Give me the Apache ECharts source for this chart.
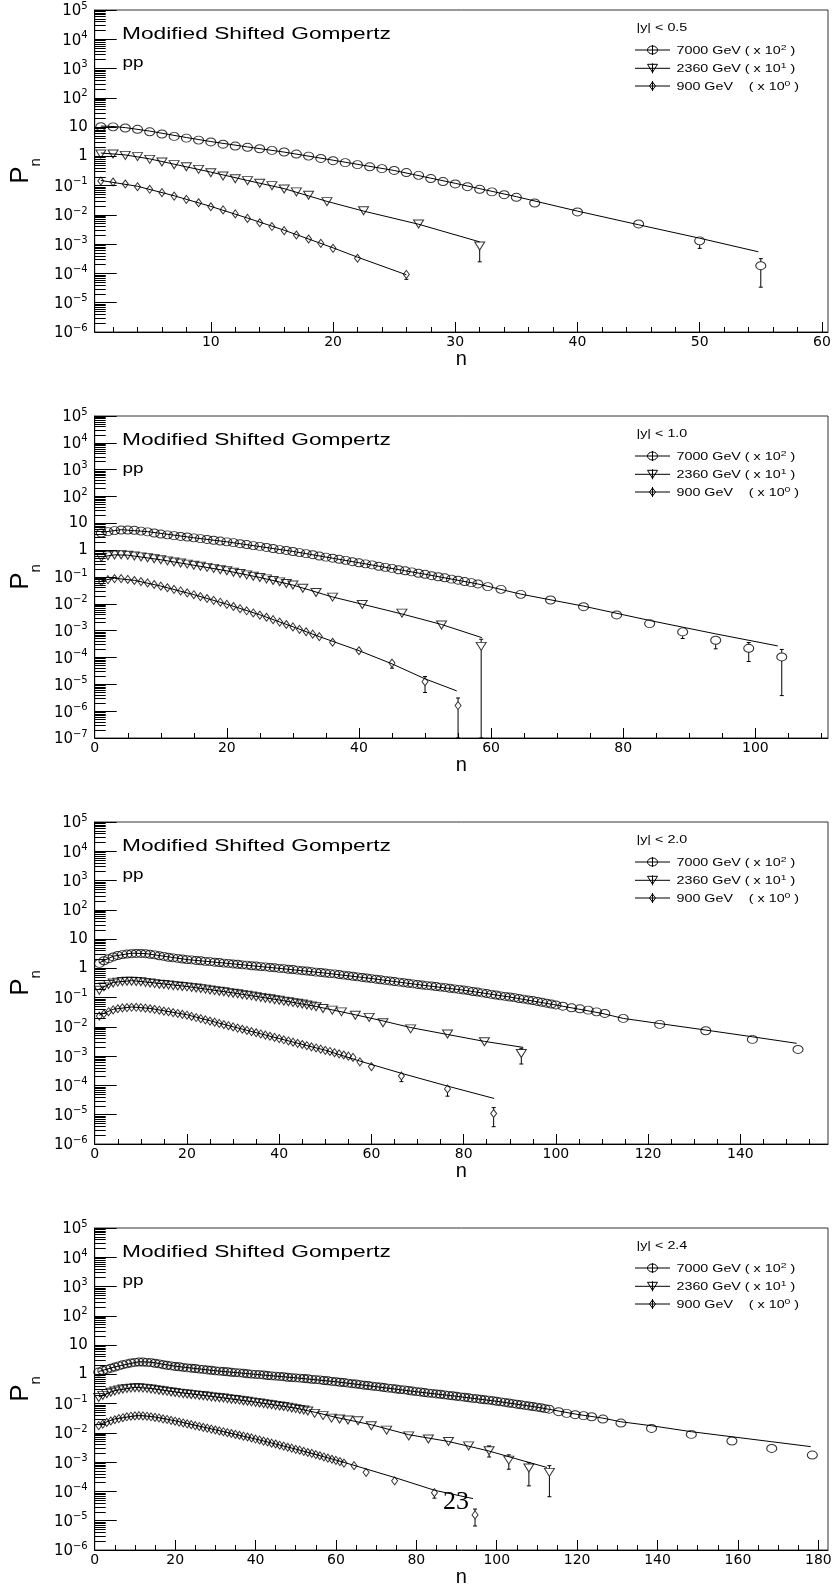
<!DOCTYPE html>
<html><head><meta charset="utf-8">
<script src="https://cdn.jsdelivr.net/npm/echarts@6/dist/echarts.min.js"></script>
<style>html,body{margin:0;padding:0;background:#fff}#c{width:835px;height:1589px}</style>
</head><body><div id="c"></div>
<script>
// ---------------- tick labels / categories ----------------
const CUTS = ['|y| < 0.5', '|y| < 1.0', '|y| < 2.0', '|y| < 2.4'];
const ENERGY_LABELS = ['{b|7000 GeV ( x 10}{s|2}{b| )}', '{b|2360 GeV ( x 10}{s|1}{b| )}', '{b|900 GeV    ( x 10}{s|0}{b| )}'];
const TITLE = 'Modified Shifted Gompertz';
const BEAM = 'pp';
const X1_MAJOR = [10, 20, 30, 40, 50, 60];
const X2_MAJOR = [0, 20, 40, 60, 80, 100];
const X3_MAJOR = [0, 20, 40, 60, 80, 100, 120, 140];
const X4_MAJOR = [0, 20, 40, 60, 80, 100, 120, 140, 160, 180];
const Y_MAJOR_A = [1e-6, 1e-5, 1e-4, 1e-3, 1e-2, 1e-1, 1, 10, 100, 1e3, 1e4, 1e5];
const Y_MAJOR_B = [1e-7, 1e-6, 1e-5, 1e-4, 1e-3, 1e-2, 1e-1, 1, 10, 100, 1e3, 1e4, 1e5];

// ---------------- panel 1 : |y| < 0.5 ----------------
const P1_7000 = [[1,10.3],[2,10.2],[3,9.3],[4,8.4],[5,6.9],[6,5.8],[7,4.8],[8,4.2],[9,3.6],[10,3.1],[11,2.6],[12,2.25],[13,2.04],[14,1.82],[15,1.6],[16,1.41],[17,1.2],[18,1.02],[19,0.85],[20,0.71],[21,0.61],[22,0.52],[23,0.44],[24,0.38],[25,0.33],[26,0.28],[27,0.225],[28,0.175],[29,0.138],[30,0.114],[31,0.092],[32,0.075],[33,0.061],[34,0.049],[35,0.040],[36.5,0.0255],[40,0.0126],[45,0.0049],[50,0.0013],[55,1.84e-4]];
const P1_2360 = [[1,1.2],[2,1.2],[3,1.08],[4,0.98],[5,0.79],[6,0.64],[7,0.52],[8,0.44],[9,0.36],[10,0.277],[11,0.214],[12,0.172],[13,0.148],[14,0.12],[15,0.1],[16,0.077],[17,0.061],[18,0.047],[19.5,0.0284],[22.5,0.0139],[27,0.0049],[32,8.7e-4]];
const P1_900 = [[1,0.144],[2,0.133],[3,0.114],[4,0.092],[5,0.075],[6,0.0575],[7,0.044],[8,0.034],[9,0.026],[10,0.019],[11,0.0148],[12,0.0108],[13,0.0076],[14,0.0054],[15,0.004],[16,0.0029],[17,0.00206],[18,0.0015],[19,0.00107],[20,7.2e-4],[22,3.3e-4],[26,9.3e-5]];
const P1_E7000 = [[50,7.2e-4,1.55e-3],[55,3.4e-5,3.2e-4]];
const P1_E2360 = [[32,2.5e-4,1.07e-3]];
const P1_E900 = [[22,2.6e-4,4.0e-4],[26,6.3e-5,1.15e-4]];
const P1_F7000 = [[1,10.8],[2,10.5],[3,9.6],[5,7.3],[8,4.4],[10,3.2],[13,2.1],[16,1.4],[20,0.74],[25,0.33],[30,0.12],[35,0.042],[40,0.0135],[45,0.0046],[50,0.0016],[54.8,5.5e-4]];
const P1_F2360 = [[1,1.3],[3,1.12],[5,0.82],[7,0.54],[10,0.29],[13,0.15],[16,0.079],[19.5,0.029],[22.5,0.0135],[27,0.0048],[32,1.2e-3]];
const P1_F900 = [[1,0.15],[4,0.095],[7,0.045],[10,0.0195],[13,0.0078],[16,0.003],[20,7.5e-4],[22,3.6e-4],[26,9e-5]];

// ---------------- panel 2 : |y| < 1.0 ----------------
const P2_7000 = [[1,4.37],[2,4.9],[3,5.37],[4,5.62],[5,5.62],[6,5.5],[7,5.13],[8,4.79],[9,4.37],[10,3.98],[11,3.72],[12,3.47],[13,3.24],[14,3.09],[15,2.88],[16,2.69],[17,2.51],[18,2.34],[19,2.19],[20,2.04],[21,1.905],[22,1.738],[23,1.622],[24,1.479],[25,1.38],[26,1.26],[27,1.15],[28,1.05],[29,0.977],[30,0.891],[31,0.813],[32,0.741],[33,0.676],[34,0.603],[35,0.55],[36,0.501],[37,0.457],[38,0.417],[39,0.372],[40,0.339],[41,0.309],[42,0.282],[43,0.251],[44,0.229],[45,0.209],[46,0.186],[47,0.17],[48,0.155],[49,0.138],[50,0.126],[51,0.112],[52,0.102],[53,0.0933],[54,0.0832],[55,0.0759],[56,0.0676],[57,0.0617],[58,0.055],[59.5,0.0437],[61.5,0.0347],[64.5,0.0226],[69,0.0139],[74,0.0078],[79,0.00385],[84,0.00183],[89,9.0e-4],[94,4.4e-4],[99,2.2e-4],[104,1.05e-4]];
const P2_2360 = [[1,0.537],[2,0.617],[3,0.661],[4,0.676],[5,0.646],[6,0.603],[7,0.562],[8,0.525],[9,0.479],[10,0.437],[11,0.398],[12,0.363],[13,0.331],[14,0.302],[15,0.275],[16,0.251],[17,0.229],[18,0.209],[19,0.186],[20,0.17],[21,0.151],[22,0.135],[23,0.12],[24,0.107],[25,0.0955],[26,0.0851],[27,0.0741],[28,0.0661],[29,0.0575],[30,0.0501],[31.5,0.038],[33.5,0.0263],[36,0.0178],[40.5,0.0095],[46.5,0.0045],[52.5,0.00163],[58.5,2.6e-4]];
const P2_900 = [[1,0.0676],[2,0.0794],[3,0.0871],[4,0.0871],[5,0.0813],[6,0.0741],[7,0.0676],[8,0.0603],[9,0.0525],[10,0.0457],[11,0.0398],[12,0.0347],[13,0.0302],[14,0.0257],[15,0.0219],[16,0.0186],[17,0.0158],[18,0.0135],[19,0.0115],[20,0.00955],[21,0.00794],[22,0.00661],[23,0.0055],[24,0.00457],[25,0.0038],[26,0.00316],[27,0.00257],[28,0.00209],[29,0.0017],[30,0.00138],[31,0.00112],[32,9.1e-4],[33,7.4e-4],[34,6.0e-4],[36,3.7e-4],[40,1.78e-4],[45,6.2e-5],[50,1.26e-5],[55,1.62e-6]];
const P2_E7000 = [[84,1.3e-3,2.3e-3],[89,5.1e-4,1.3e-3],[94,2.1e-4,6.0e-4],[99,7.1e-5,3.6e-4],[104,3.8e-6,2.0e-4]];
const P2_E2360 = [[52.5,1.3e-3,2.0e-3],[58.5,1e-7,4.8e-4]];
const P2_E900 = [[40,1.4e-4,2.2e-4],[45,4.0e-5,7.9e-5],[50,4.95e-6,1.95e-5],[55,1e-7,3.1e-6]];
const P2_F7000 = [[1,4.6],[4,5.8],[8,4.9],[15,2.9],[20,2.05],[30,0.9],[40,0.34],[50,0.127],[58,0.055],[64.5,0.023],[74,0.0082],[84,0.0024],[94,7.6e-4],[103.4,2.7e-4]];
const P2_F2360 = [[1,0.56],[3,0.67],[5,0.65],[10,0.44],[15,0.275],[20,0.17],[25,0.096],[30,0.05],[36,0.018],[40.5,0.0097],[46.5,0.0042],[52.5,0.0017],[58.6,5.5e-4]];
const P2_F900 = [[1,0.072],[3,0.09],[6,0.075],[10,0.046],[15,0.022],[20,0.0097],[25,0.0039],[30,0.0014],[34,6.0e-4],[40,1.8e-4],[45,5.8e-5],[50,1.6e-5],[54.8,5.7e-6]];

// ---------------- panel 3 : |y| < 2.0 ----------------
const P3_7000 = [[1,1.479],[2,1.82],[3,2.138],[4,2.455],[5,2.754],[6,2.951],[7,3.09],[8,3.162],[9,3.236],[10,3.236],[11,3.162],[12,3.02],[13,2.884],[14,2.692],[15,2.57],[16,2.399],[17,2.291],[18,2.188],[19,2.089],[20,1.995],[21,1.95],[22,1.862],[23,1.82],[24,1.738],[25,1.698],[26,1.622],[27,1.585],[28,1.514],[29,1.479],[30,1.413],[31,1.38],[32,1.318],[33,1.288],[34,1.23],[35,1.202],[36,1.148],[37,1.122],[38,1.072],[39,1.047],[40,1.0],[41,0.977],[42,0.933],[43,0.912],[44,0.871],[45,0.832],[46,0.813],[47,0.776],[48,0.741],[49,0.724],[50,0.692],[51,0.661],[52,0.646],[53,0.617],[54,0.589],[55,0.562],[56,0.537],[57,0.513],[58,0.49],[59,0.468],[60,0.447],[61,0.427],[62,0.407],[63,0.389],[64,0.372],[65,0.355],[66,0.339],[67,0.324],[68,0.309],[69,0.295],[70,0.282],[71,0.269],[72,0.257],[73,0.251],[74,0.24],[75,0.229],[76,0.219],[77,0.209],[78,0.2],[79,0.191],[80,0.182],[81,0.174],[82,0.162],[83,0.155],[84,0.145],[85,0.138],[86,0.129],[87,0.123],[88,0.115],[89,0.11],[90,0.105],[91,0.1],[92,0.0933],[93,0.0891],[94,0.0832],[95,0.0794],[96,0.0741],[97,0.0692],[98,0.0646],[99,0.0603],[100,0.0562],[101.5,0.051],[103.4,0.045],[105.2,0.0415],[107,0.0374],[108.8,0.0327],[110.6,0.0288],[114.6,0.0195],[122.5,0.0122],[132.5,0.0074],[142.6,0.00374],[152.5,0.0017]];
const P3_2360 = [[1,0.178],[2,0.234],[3,0.282],[4,0.316],[5,0.339],[6,0.355],[7,0.363],[8,0.363],[9,0.355],[10,0.347],[11,0.331],[12,0.316],[13,0.302],[14,0.288],[15,0.282],[16,0.269],[17,0.257],[18,0.251],[19,0.24],[20,0.234],[21,0.224],[22,0.214],[23,0.204],[24,0.195],[25,0.182],[26,0.174],[27,0.166],[28,0.158],[29,0.148],[30,0.141],[31,0.135],[32,0.126],[33,0.12],[34,0.115],[35,0.107],[36,0.102],[37,0.0955],[38,0.0912],[39,0.0851],[40,0.0813],[41,0.0759],[42,0.0724],[43,0.0676],[44,0.0646],[45,0.0603],[46,0.0562],[47,0.0525],[48,0.049],[49.5,0.0427],[51.5,0.0374],[53.5,0.0327],[56.5,0.0251],[59.5,0.0211],[62.5,0.0138],[68.5,0.0086],[76.5,0.0057],[84.5,0.0031],[92.5,0.00124]];
const P3_900 = [[1,0.0234],[2,0.0282],[3,0.0331],[4,0.038],[5,0.0417],[6,0.0447],[7,0.0457],[8,0.0468],[9,0.0468],[10,0.0457],[11,0.0437],[12,0.0417],[13,0.0398],[14,0.0372],[15,0.0347],[16,0.0331],[17,0.0309],[18,0.0288],[19,0.0269],[20,0.0251],[21,0.0229],[22,0.0209],[23,0.0191],[24,0.0174],[25,0.0158],[26,0.0145],[27,0.0132],[28,0.012],[29,0.011],[30,0.01],[31,0.00912],[32,0.00832],[33,0.00759],[34,0.00692],[35,0.00631],[36,0.00575],[37,0.00525],[38,0.00479],[39,0.00437],[40,0.00398],[41,0.00363],[42,0.00331],[43,0.00302],[44,0.00275],[45,0.00251],[46,0.00229],[47,0.00209],[48,0.00191],[49,0.00174],[50,0.00158],[51,0.00145],[52,0.00132],[53,0.0012],[54,0.0011],[55,0.001],[56,9.1e-4],[57.5,6.4e-4],[60,4.4e-4],[66.5,2.1e-4],[76.5,7.6e-5],[86.5,1.1e-5]];
const P3_E7000 = [[152.5,1.45e-3,1.95e-3]];
const P3_E2360 = [[84.5,2.5e-3,3.4e-3],[92.5,5.4e-4,1.86e-3]];
const P3_E900 = [[66.5,1.35e-4,2.95e-4],[76.5,4.3e-5,1.0e-4],[86.5,3.9e-6,1.75e-5]];
const P3_F7000 = [[1,1.55],[4,2.6],[8,3.3],[11,3.2],[15,2.6],[20,2.0],[30,1.42],[40,1.0],[50,0.69],[60,0.45],[70,0.28],[80,0.18],[90,0.105],[100,0.056],[110,0.029],[114.6,0.0195],[122.5,0.013],[132.5,0.0078],[142.6,0.0046],[152.2,0.00275]];
const P3_F2360 = [[1,0.2],[4,0.33],[8,0.38],[12,0.33],[20,0.24],[30,0.145],[40,0.083],[48,0.05],[56.5,0.026],[62.5,0.016],[68.5,0.0095],[76.5,0.0055],[84.5,0.0032],[92.9,0.002]];
const P3_F900 = [[1,0.025],[4,0.04],[8,0.048],[12,0.043],[20,0.026],[30,0.0101],[40,0.004],[50,0.0016],[57.5,6.8e-4],[66.5,2.6e-4],[76.5,9.5e-5],[86.6,3.6e-5]];

// ---------------- panel 4 : |y| < 2.4 ----------------
const P4_7000 = [[1,1.202],[2,1.349],[3,1.479],[4,1.622],[5,1.778],[6,1.95],[7,2.138],[8,2.291],[9,2.455],[10,2.57],[11,2.63],[12,2.63],[13,2.57],[14,2.512],[15,2.399],[16,2.291],[17,2.138],[18,2.042],[19,1.95],[20,1.862],[21,1.82],[22,1.738],[23,1.66],[24,1.622],[25,1.585],[26,1.514],[27,1.479],[28,1.413],[29,1.38],[30,1.318],[31,1.288],[32,1.259],[33,1.23],[34,1.175],[35,1.148],[36,1.122],[37,1.096],[38,1.047],[39,1.023],[40,1.0],[41,0.977],[42,0.955],[43,0.912],[44,0.891],[45,0.871],[46,0.851],[47,0.832],[48,0.794],[49,0.776],[50,0.759],[51,0.741],[52,0.724],[53,0.708],[54,0.676],[55,0.661],[56,0.646],[57,0.617],[58,0.603],[59,0.575],[60,0.562],[61,0.537],[62,0.525],[63,0.501],[64,0.479],[65,0.468],[66,0.447],[67,0.427],[68,0.417],[69,0.398],[70,0.38],[71,0.372],[72,0.355],[73,0.339],[74,0.331],[75,0.316],[76,0.302],[77,0.295],[78,0.282],[79,0.269],[80,0.257],[81,0.251],[82,0.24],[83,0.229],[84,0.224],[85,0.214],[86,0.209],[87,0.2],[88,0.191],[89,0.186],[90,0.178],[91,0.17],[92,0.166],[93,0.158],[94,0.151],[95,0.148],[96,0.141],[97,0.135],[98,0.132],[99,0.126],[100,0.12],[101,0.115],[102,0.11],[103,0.105],[104,0.1],[105,0.0955],[106,0.0912],[107,0.0871],[108,0.0832],[109,0.0794],[110,0.0759],[111,0.0724],[112,0.0676],[113,0.0646],[115.4,0.053],[117.4,0.0465],[119.5,0.0419],[121.6,0.0389],[123.6,0.0357],[126.4,0.0298],[130.9,0.0217],[138.5,0.0142],[148.4,0.0089],[158.5,0.0053],[168.4,0.00295],[178.5,0.00175]];
const P4_2360 = [[1,0.162],[2,0.191],[3,0.219],[4,0.245],[5,0.269],[6,0.295],[7,0.316],[8,0.331],[9,0.339],[10,0.347],[11,0.347],[12,0.339],[13,0.331],[14,0.316],[15,0.302],[16,0.288],[17,0.275],[18,0.263],[19,0.251],[20,0.24],[21,0.229],[22,0.219],[23,0.214],[24,0.204],[25,0.2],[26,0.191],[27,0.186],[28,0.178],[29,0.17],[30,0.166],[31,0.158],[32,0.155],[33,0.148],[34,0.141],[35,0.138],[36,0.132],[37,0.126],[38,0.12],[39,0.115],[40,0.11],[41,0.105],[42,0.1],[43,0.0955],[44,0.0912],[45,0.0871],[46,0.0832],[47,0.0794],[48,0.0759],[49,0.0708],[50,0.0676],[51,0.0631],[52,0.0603],[53,0.0562],[54.7,0.0465],[56.8,0.039],[58.9,0.032],[60.9,0.030],[63,0.0275],[65.5,0.026],[68.8,0.0176],[72.6,0.0124],[78.1,0.0079],[83,0.0062],[88,0.0051],[93,0.0036],[98.1,0.00245],[103,0.00118],[108,6.3e-4],[113.1,4.5e-4]];
const P4_900 = [[1,0.0178],[2,0.02],[3,0.0229],[4,0.0257],[5,0.0282],[6,0.0309],[7,0.0331],[8,0.0355],[9,0.0372],[10,0.038],[11,0.0389],[12,0.038],[13,0.0372],[14,0.0355],[15,0.0339],[16,0.0324],[17,0.0302],[18,0.0288],[19,0.0269],[20,0.0251],[21,0.0234],[22,0.0219],[23,0.0204],[24,0.0191],[25,0.0178],[26,0.0166],[27,0.0155],[28,0.0145],[29,0.0135],[30,0.0126],[31,0.0117],[32,0.011],[33,0.0102],[34,0.00955],[35,0.00891],[36,0.00832],[37,0.00776],[38,0.00724],[39,0.00676],[40,0.00617],[41,0.00575],[42,0.00525],[43,0.0049],[44,0.00447],[45,0.00417],[46,0.0038],[47,0.00355],[48,0.00324],[49,0.00302],[50,0.00275],[51,0.00257],[52,0.00234],[53,0.00214],[54,0.002],[55,0.00182],[56,0.00166],[57,0.00151],[58,0.00138],[59,0.00126],[60,0.00115],[61,0.00105],[62,9.3e-4],[64.5,7.6e-4],[67.5,4.5e-4],[74.6,2.3e-4],[84.5,9.1e-5],[94.6,1.58e-5]];
const P4_E7000 = [[168.4,2.6e-3,3.3e-3],[178.5,1.5e-3,2.05e-3]];
const P4_E2360 = [[98.1,1.5e-3,3.6e-3],[103,5.75e-4,1.78e-3],[108,1.55e-4,9.8e-4],[113.1,6.6e-5,7.6e-4]];
const P4_E900 = [[67.5,3.6e-4,5.5e-4],[74.6,1.62e-4,2.95e-4],[84.5,5.9e-5,1.2e-4],[94.6,6.6e-6,2.5e-5]];
const P4_F7000 = [[1,1.25],[5,1.8],[11,2.7],[14,2.6],[20,1.9],[30,1.33],[40,1.0],[50,0.76],[60,0.56],[70,0.38],[80,0.255],[90,0.178],[100,0.12],[110,0.076],[120,0.043],[126.4,0.032],[130.9,0.024],[138.5,0.0176],[148.4,0.011],[158.5,0.0074],[168.4,0.005],[178.1,0.0034]];
const P4_F2360 = [[1,0.17],[5,0.28],[10,0.36],[14,0.33],[20,0.25],[30,0.17],[40,0.112],[50,0.07],[55,0.05],[60,0.034],[68.8,0.019],[78.1,0.0087],[88,0.0051],[98.1,0.0024],[108,9.8e-4],[112.5,6.6e-4]];
const P4_F900 = [[1,0.019],[5,0.03],[11,0.04],[15,0.035],[20,0.026],[30,0.0128],[40,0.0062],[50,0.0028],[60,0.00118],[64.5,7.8e-4],[74.6,3.0e-4],[84.5,1.1e-4],[94.1,5.7e-5]];

// ---------------- layout ----------------
const PANELS = [
  {top: 10,  xmin: 0.5, xmax: 60.5, ymin: 1e-6, ymax: 1e5, xmajor: X1_MAJOR, xstep: 2, ymajor: Y_MAJOR_A,
   pts: [P1_7000, P1_2360, P1_900], errs: [P1_E7000, P1_E2360, P1_E900], fits: [P1_F7000, P1_F2360, P1_F900]},
  {top: 416, xmin: 0, xmax: 111, ymin: 1e-7, ymax: 1e5, xmajor: X2_MAJOR, xstep: 5, ymajor: Y_MAJOR_B,
   pts: [P2_7000, P2_2360, P2_900], errs: [P2_E7000, P2_E2360, P2_E900], fits: [P2_F7000, P2_F2360, P2_F900]},
  {top: 822, xmin: 0, xmax: 159, ymin: 1e-6, ymax: 1e5, xmajor: X3_MAJOR, xstep: 5, ymajor: Y_MAJOR_A,
   pts: [P3_7000, P3_2360, P3_900], errs: [P3_E7000, P3_E2360, P3_E900], fits: [P3_F7000, P3_F2360, P3_F900]},
  {top: 1228, xmin: 0, xmax: 182.4, ymin: 1e-6, ymax: 1e5, xmajor: X4_MAJOR, xstep: 5, ymajor: Y_MAJOR_A,
   pts: [P4_7000, P4_2360, P4_900], errs: [P4_E7000, P4_E2360, P4_E900], fits: [P4_F7000, P4_F2360, P4_F900]}
];
const GL = 91, GW = 737, GH = 322;
const MARK = [
  {symbol: 'circle', size: [10, 8], rot: 0, half: 4},
  {symbol: 'triangle', size: [10, 8], rot: 180, half: 4},
  {symbol: 'diamond', size: [6, 8], rot: 0, half: 4}
];

function minorX(lo, hi, step) {
  const r = [];
  for (let v = Math.ceil(lo / step) * step; v <= hi + 1e-9; v += step) r.push(+v.toFixed(4));
  return r;
}
function minorY(lo, hi) {
  const r = [];
  const e0 = Math.round(Math.log10(lo)), e1 = Math.round(Math.log10(hi));
  for (let e = e0; e < e1; e++) for (let m = 2; m <= 9; m++) r.push(+(m * Math.pow(10, e)).toPrecision(6));
  return r;
}
function yFmt(v) {
  const e = Math.round(Math.log10(v));
  if (e === 0) return '{b|1}';
  if (e === 1) return '{b|10}';
  return '{b|10}{s|' + (e < 0 ? '\u2212' + (-e) : e) + '}';
}

const grids = [], xAxes = [], yAxes = [], series = [], graphics = [];
const FONT = 'DejaVu Sans';

PANELS.forEach((p, i) => {
  grids.push({left: GL, top: p.top, width: GW, height: GH, show: true, borderColor: '#333', borderWidth: 1});
  xAxes.push({
    gridIndex: i, type: 'value', position: 'bottom', min: p.xmin, max: p.xmax,
    axisLine: {show: true, onZero: false, lineStyle: {color: '#000', width: 1}},
    axisTick: {show: true, inside: true, length: 10, customValues: p.xmajor, lineStyle: {color: '#000'}},
    axisLabel: {show: true, customValues: p.xmajor, margin: 3, color: '#000', fontFamily: FONT, fontSize: 14},
    splitLine: {show: false},
    name: 'n', nameLocation: 'middle', nameGap: 17,
    nameTextStyle: {fontFamily: 'Liberation Sans', fontSize: 20, color: '#000'}
  });
  xAxes.push({
    gridIndex: i, type: 'value', position: 'bottom', min: p.xmin, max: p.xmax,
    axisLine: {show: false, onZero: false},
    axisTick: {show: true, inside: true, length: 5, customValues: minorX(p.xmin, p.xmax, p.xstep), lineStyle: {color: '#000'}},
    axisLabel: {show: false}, splitLine: {show: false}
  });
  yAxes.push({
    gridIndex: i, type: 'log', logBase: 10, position: 'left', min: p.ymin, max: p.ymax,
    axisLine: {show: true, onZero: false, lineStyle: {color: '#000', width: 1}},
    axisTick: {show: true, inside: true, length: 22, customValues: p.ymajor, lineStyle: {color: '#000'}},
    axisLabel: {show: true, customValues: p.ymajor, margin: 7, formatter: yFmt,
      rich: {
        b: {fontFamily: FONT, fontSize: 15, color: '#000', verticalAlign: 'bottom'},
        s: {fontFamily: FONT, fontSize: 10, color: '#000', verticalAlign: 'bottom', padding: [0, 0, 8, 0]}
      }},
    splitLine: {show: false},
    name: '{p|P}{q|n}', nameLocation: 'middle', nameRotate: 90, nameGap: 49,
    nameTextStyle: {rich: {
      p: {fontFamily: 'Liberation Sans', fontSize: 26, color: '#000', verticalAlign: 'top'},
      q: {fontFamily: 'Liberation Sans', fontSize: 15, color: '#000', verticalAlign: 'top', padding: [20, 0, 0, 0]}
    }}
  });
  yAxes.push({
    gridIndex: i, type: 'log', logBase: 10, position: 'left', min: p.ymin, max: p.ymax,
    axisLine: {show: false, onZero: false},
    axisTick: {show: true, inside: true, length: 11, customValues: minorY(p.ymin, p.ymax), lineStyle: {color: '#000'}},
    axisLabel: {show: false}, splitLine: {show: false}
  });

  for (let k = 0; k < 3; k++) {
    series.push({
      type: 'line', xAxisIndex: 2 * i, yAxisIndex: 2 * i, data: p.fits[k],
      showSymbol: false, symbol: 'none', smooth: false, silent: true, z: 2,
      lineStyle: {color: '#000', width: 1}
    });
    series.push({
      type: 'scatter', xAxisIndex: 2 * i, yAxisIndex: 2 * i, data: p.pts[k],
      symbol: MARK[k].symbol, symbolSize: MARK[k].size, symbolRotate: MARK[k].rot, silent: true, z: 3,
      itemStyle: {color: 'rgba(0,0,0,0)', borderColor: '#000', borderWidth: 1}
    });
    const pts = p.pts[k];
    const half = MARK[k].half;
    const edata = p.errs[k].map(e => {
      const c = pts.find(d => d[0] === e[0]);
      return [e[0], e[1], e[2], c ? c[1] : Math.sqrt(e[1] * e[2])];
    });
    series.push({
      type: 'custom', xAxisIndex: 2 * i, yAxisIndex: 2 * i, data: edata, silent: true, z: 3, clip: true,
      renderItem: (params, api) => {
        const n = api.value(0), lo = api.value(1), hi = api.value(2), c = api.value(3);
        const pc = api.coord([n, c]), pl = api.coord([n, lo]), ph = api.coord([n, hi]);
        const x = pc[0];
        const st = {stroke: '#000', lineWidth: 1};
        const kids = [];
        if (pl[1] > pc[1] + half + 0.5) {
          kids.push({type: 'line', shape: {x1: x, y1: pc[1] + half, x2: x, y2: pl[1]}, style: st});
          kids.push({type: 'line', shape: {x1: x - 2, y1: pl[1], x2: x + 2, y2: pl[1]}, style: st});
        }
        if (ph[1] < pc[1] - half - 0.5) {
          kids.push({type: 'line', shape: {x1: x, y1: pc[1] - half, x2: x, y2: ph[1]}, style: st});
          kids.push({type: 'line', shape: {x1: x - 2, y1: ph[1], x2: x + 2, y2: ph[1]}, style: st});
        }
        return {type: 'group', children: kids};
      }
    });
  }

  // annotation texts
  graphics.push({type: 'text', x: 122, y: p.top + 25, scaleX: 1.42, silent: true,
    style: {text: TITLE, fontFamily: 'Liberation Sans', fontSize: 16, fill: '#000', align: 'left', textAlign: 'left', verticalAlign: 'middle', textVerticalAlign: 'middle'}});
  graphics.push({type: 'text', x: 122.5, y: p.top + 53.5, scaleX: 1.35, silent: true,
    style: {text: BEAM, fontFamily: 'Liberation Sans', fontSize: 14, fill: '#000', align: 'left', textAlign: 'left', verticalAlign: 'middle', textVerticalAlign: 'middle'}});
  // legend
  graphics.push({type: 'text', x: 636.5, y: p.top + 17.5, scaleX: 1.3, silent: true,
    style: {text: CUTS[i], fontFamily: 'Liberation Sans', fontSize: 11, fill: '#000', align: 'left', textAlign: 'left', verticalAlign: 'middle', textVerticalAlign: 'middle'}});
  const ly = [40, 58.3, 76];
  for (let k = 0; k < 3; k++) {
    const cy = p.top + ly[k], cx = 652.5;
    const st = {stroke: '#000', lineWidth: 1, fill: 'none'};
    graphics.push({type: 'line', silent: true, shape: {x1: 635, y1: cy, x2: 670, y2: cy}, style: st});
    graphics.push({type: 'line', silent: true, shape: {x1: cx, y1: cy - 5, x2: cx, y2: cy + 5}, style: st});
    if (k === 0) graphics.push({type: 'ellipse', silent: true, shape: {cx: cx, cy: cy, rx: 5, ry: 4}, style: st});
    if (k === 1) graphics.push({type: 'polygon', silent: true, shape: {points: [[cx - 5, cy - 4], [cx + 5, cy - 4], [cx, cy + 4]]}, style: st});
    if (k === 2) graphics.push({type: 'polygon', silent: true, shape: {points: [[cx, cy - 4], [cx + 3, cy], [cx, cy + 4], [cx - 3, cy]]}, style: st});
    graphics.push({type: 'text', x: 676.5, y: cy, scaleX: 1.3, silent: true,
      style: {text: ENERGY_LABELS[k], fill: '#000', align: 'left', textAlign: 'left', verticalAlign: 'middle', textVerticalAlign: 'middle',
        rich: {
          b: {fontFamily: 'Liberation Sans', fontSize: 11, fill: '#000', verticalAlign: 'bottom'},
          s: {fontFamily: 'Liberation Sans', fontSize: 8, fill: '#000', verticalAlign: 'bottom', padding: [0, 0, 5, 0]}
        }}});
  }
});

// page number artefact
graphics.push({type: 'text', x: 456, y: 1502, silent: true,
  style: {text: '23', fontFamily: 'Liberation Serif', fontSize: 26, fill: '#000', align: 'center', textAlign: 'center', verticalAlign: 'middle', textVerticalAlign: 'middle'}});

const chart = echarts.init(document.getElementById('c'), null, {width: 835, height: 1589, renderer: 'canvas'});
chart.setOption({
  animation: false,
  backgroundColor: '#fff',
  grid: grids,
  xAxis: xAxes,
  yAxis: yAxes,
  series: series,
  graphic: graphics
});
</script></body></html>
